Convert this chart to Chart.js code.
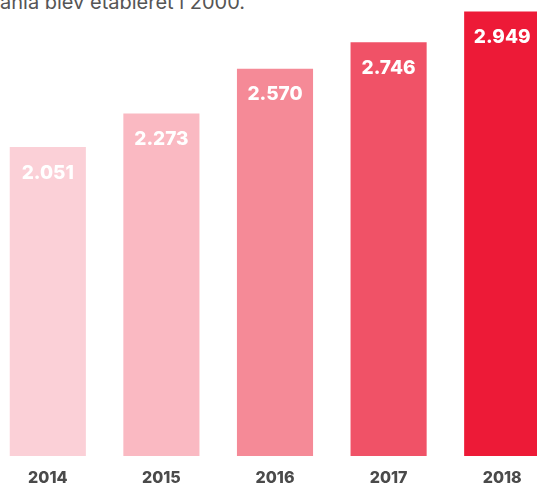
<!DOCTYPE html>
<html>
<head>
<meta charset="utf-8">
<script src="https://cdn.jsdelivr.net/npm/chart.js@4"></script>
<style>
  html, body { margin: 0; padding: 0; background: #fff; overflow: hidden; }
  body { width: 537px; height: 488px; position: relative; }
  #caption {
    position: absolute; left: 0; top: -10px;
    font-family: Inter, sans-serif; font-size: 20px; color: #555;
    letter-spacing: 0; white-space: nowrap;
  }
  #wrap { position: absolute; left: -9px; top: 0; width: 568px; height: 488px; }
</style>
</head>
<body>
<div id="caption">ania blev etableret i 2000.</div>
<div id="wrap"><canvas id="chart"></canvas></div>
<script>
const years = ["2014", "2015", "2016", "2017", "2018"];
const counts = [2051, 2273, 2570, 2746, 2949];
const barColors = ["#fbd0d7", "#fab9c2", "#f58a97", "#f05267", "#ed1a37"];

// white value label inside the top of each bar
const valueLabels = {
  id: "valueLabels",
  afterDatasetsDraw(chart) {
    const ctx = chart.ctx;
    const meta = chart.getDatasetMeta(0);
    ctx.save();
    ctx.fillStyle = "#fff";
    ctx.font = "800 19px Inter, sans-serif";
    ctx.textAlign = "center";
    ctx.textBaseline = "middle";
    meta.data.forEach((bar, i) => {
      const txt = counts[i].toLocaleString("de-DE");
      ctx.fillText(txt, bar.x, bar.y + 26);
    });
    ctx.restore();
  }
};

new Chart(document.getElementById("chart"), {
  type: "bar",
  data: {
    labels: years,
    datasets: [{
      data: counts,
      backgroundColor: barColors,
      categoryPercentage: 1,
      barPercentage: 0.67
    }]
  },
  options: {
    responsive: true,
    maintainAspectRatio: false,
    animation: false,
    layout: { padding: 0 },
    plugins: { legend: { display: false }, tooltip: { enabled: false } },
    scales: {
      x: {
        grid: { display: false },
        border: { display: false },
        ticks: {
          color: "#4a4a4a",
          font: { family: "Inter", size: 16, weight: "800" },
          padding: 5
        },
        afterFit(scale) { scale.height = 32; }
      },
      y: {
        display: false,
        min: 0,
        max: 3026
      }
    }
  },
  plugins: [valueLabels]
});
</script>
</body>
</html>
